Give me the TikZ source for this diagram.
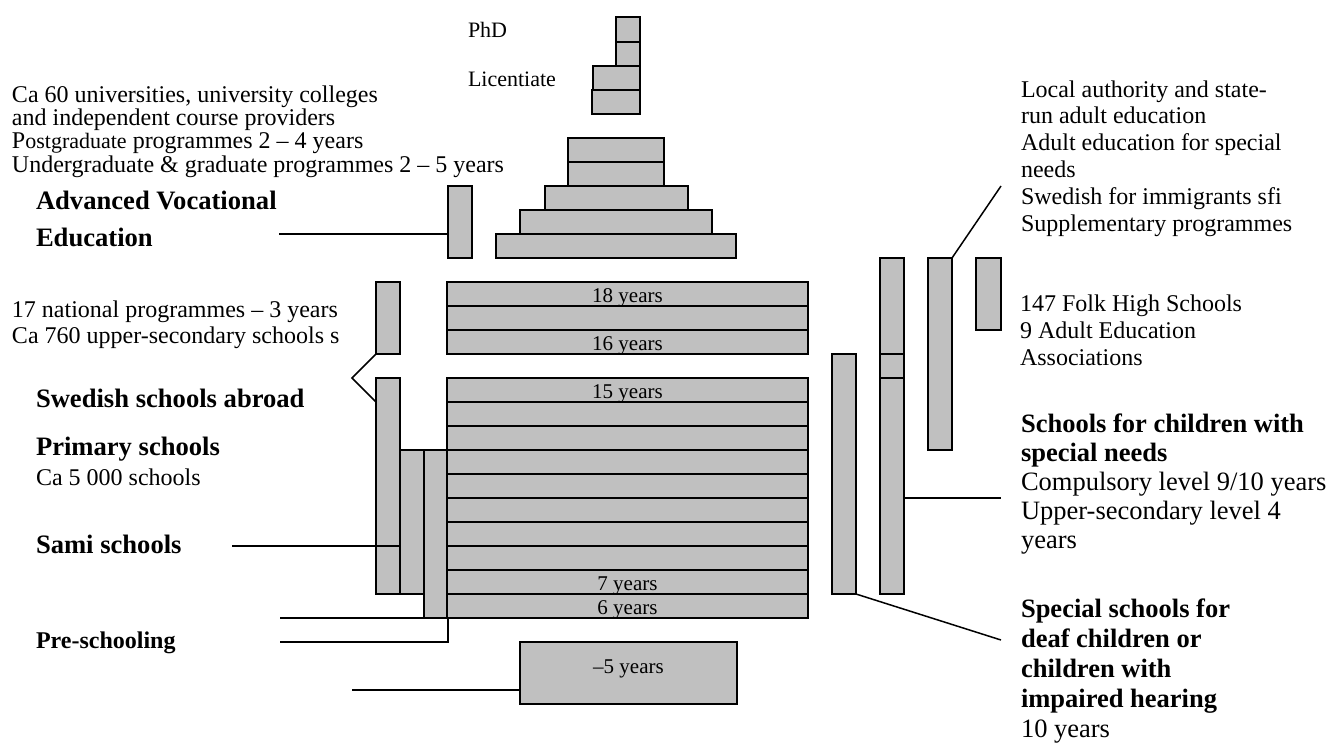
\documentclass[tikz,border=0pt]{standalone}
\usepackage{fontspec}
\setmainfont{Liberation Serif}
\definecolor{barfill}{HTML}{C0C0C0}
\tikzset{
  gbox/.style={draw, line width=1.5pt, fill=barfill, inner sep=0pt, outer sep=0pt, rectangle},
  conn/.style={line width=1.5pt},
  lab/.style={inner sep=0pt, outer sep=0pt, anchor=base west, font=\fontsize{24}{28}\selectfont},
  blab/.style={lab, font=\fontsize{26.6}{30}\selectfont\bfseries},
  rlab/.style={lab, font=\fontsize{26.5}{30}\selectfont},
  rblab/.style={lab, font=\fontsize{26.5}{30}\selectfont\bfseries},
  plab/.style={lab, font=\fontsize{22}{26}\selectfont},
  ylab/.style={inner sep=0pt, outer sep=0pt, anchor=base, font=\fontsize{21}{24}\selectfont},
}
\newcommand\mkbar[5]{\node[gbox, minimum width={((#4)-(#2))*1pt}, minimum height={((#5)-(#3))*1pt}] (#1) at ({((#2)+(#4))/2},{((#3)+(#5))/2}) {};}
\begin{document}
\begin{tikzpicture}[x=1pt,y=-1pt]
\useasboundingbox (0,0) rectangle (1332,745);
% doctoral
\mkbar{phd1}{616}{17}{640}{42}
\mkbar{phd2}{616}{42}{640}{66}
\mkbar{lic1}{593}{66}{640}{90}
\mkbar{lic2}{592}{90}{640}{114}
% university pyramid
\mkbar{u1}{568}{138}{664}{162}
\mkbar{u2}{568}{162}{664}{186}
\mkbar{u3}{545}{186}{688}{210}
\mkbar{u4}{520}{210}{712}{234}
\mkbar{u5}{496}{234}{736}{258}
\mkbar{ave}{448}{186}{472}{258}
% upper secondary
\foreach \i in {0,1,2} {\mkbar{us\i}{447}{282+24*\i}{808}{306+24*\i}}
\mkbar{usl}{376}{282}{400}{354}
% compulsory
\mkbar{abroad}{376}{378}{400}{594}
\mkbar{sami}{400}{450}{424}{594}
\mkbar{pre}{424}{450}{448}{618}
\foreach \i in {0,...,9} {\mkbar{ps\i}{447}{378+24*\i}{808}{402+24*\i}}
\mkbar{five}{520}{642}{737}{704}
% right side
\mkbar{deaf}{832}{354}{856}{594}
\mkbar{spa}{880}{258}{904}{354}
\mkbar{spb}{880}{354}{904}{378}
\mkbar{spc}{880}{378}{904}{594}
\mkbar{adult}{928}{258}{952}{450}
\mkbar{folk}{976}{258}{1001}{330}
% year labels
\node[ylab] (y18) at (627.5,302.5) {18 years};
\node[ylab] (y16) at (627.5,350.5) {16 years};
\node[ylab] (y15) at (627.5,398.5) {15 years};
\node[ylab] (y7) at (627.5,590.5) {7 years};
\node[ylab] (y6) at (627.5,614.5) {6 years};
\node[ylab] (y5) at (628.5,673) {–5 years};
% top labels
\node[plab] (tphd) at (468,37) {PhD};
\node[plab] (tlic) at (468,86) {Licentiate};
% left texts
\node[lab] (l1) at (12,102) {Ca 60 universities, university colleges};
\node[lab] (l2) at (12,125.3) {and independent course providers};
\node[lab] (l3) at (12,148.6) {P{\fontsize{22}{26}\selectfont ostgraduate} programmes 2 – 4 years};
\node[lab] (l4) at (12,172) {Undergraduate \& graduate programmes 2 – 5 years};
\node[blab] (l5) at (36,209) {Advanced Vocational};
\node[blab] (l6) at (36,246) {Education};
\node[lab] (l7) at (12,317) {17 national programmes – 3 years};
\node[lab] (l8) at (12,343) {Ca 760 upper-secondary schools s};
\node[blab] (l9) at (36,407) {Swedish schools abroad};
\node[blab] (l10) at (36,455) {Primary schools};
\node[lab] (l11) at (36,485) {Ca 5 000 schools};
\node[blab] (l12) at (36,553) {Sami schools};
\node[lab, font=\fontsize{24}{28}\selectfont\bfseries] (l13) at (36,648) {Pre-schooling};
% right texts
\node[lab] (r1) at (1021,97) {Local authority and state-};
\node[lab] (r2) at (1021,123.7) {run adult education};
\node[lab] (r3) at (1021,150.4) {Adult education for special};
\node[lab] (r4) at (1021,177) {needs};
\node[lab] (r5) at (1021,204) {Swedish for immigrants sfi};
\node[lab] (r6) at (1021,231) {Supplementary programmes};
\node[lab] (r7) at (1020,311) {147 Folk High Schools};
\node[lab] (r8) at (1020,338) {9 Adult Education};
\node[lab] (r9) at (1020,365) {Associations};
\node[rblab] (r10) at (1021,432) {Schools for children with};
\node[rblab] (r11) at (1021,461) {special needs};
\node[rlab] (r12) at (1021,490) {Compulsory level 9/10 years};
\node[rlab] (r13) at (1021,519) {Upper-secondary level 4};
\node[rlab] (r14) at (1021,548) {years};
\node[rblab] (r15) at (1021,617) {Special schools for};
\node[rblab] (r16) at (1021,647) {deaf children or};
\node[rblab] (r17) at (1021,677) {children with};
\node[rblab] (r18) at (1021,707) {impaired hearing};
\node[rlab] (r19) at (1021,737) {10 years};
% connectors
\coordinate (aveL) at (279,234);
\draw[conn] (aveL) -- (aveL -| ave.west);
\coordinate (bk) at (352,378);
\draw[conn] (usl.south west) -- (bk) -- ([yshift=-24pt]abroad.north west);
\coordinate (samiL) at (232,546);
\draw[conn] (samiL) -- (samiL -| sami.west);
\coordinate (preA) at (280,618);
\draw[conn] (preA) -- (pre.south west);
\coordinate (preB) at (280,642);
\draw[conn] (preB) -- (preB -| pre.south east) -- (pre.south east);
\coordinate (fiveL) at (352,690);
\draw[conn] (fiveL) -- (fiveL -| five.west);
\coordinate (spR) at (1001,498);
\draw[conn] (spR -| spc.east) -- (spR);
\coordinate (deafR) at (1001,640);
\draw[conn] (deaf.south east) -- (deafR);
\coordinate (adR) at (1001,186);
\draw[conn] (adult.north east) -- (adR);
\end{tikzpicture}
\end{document}
